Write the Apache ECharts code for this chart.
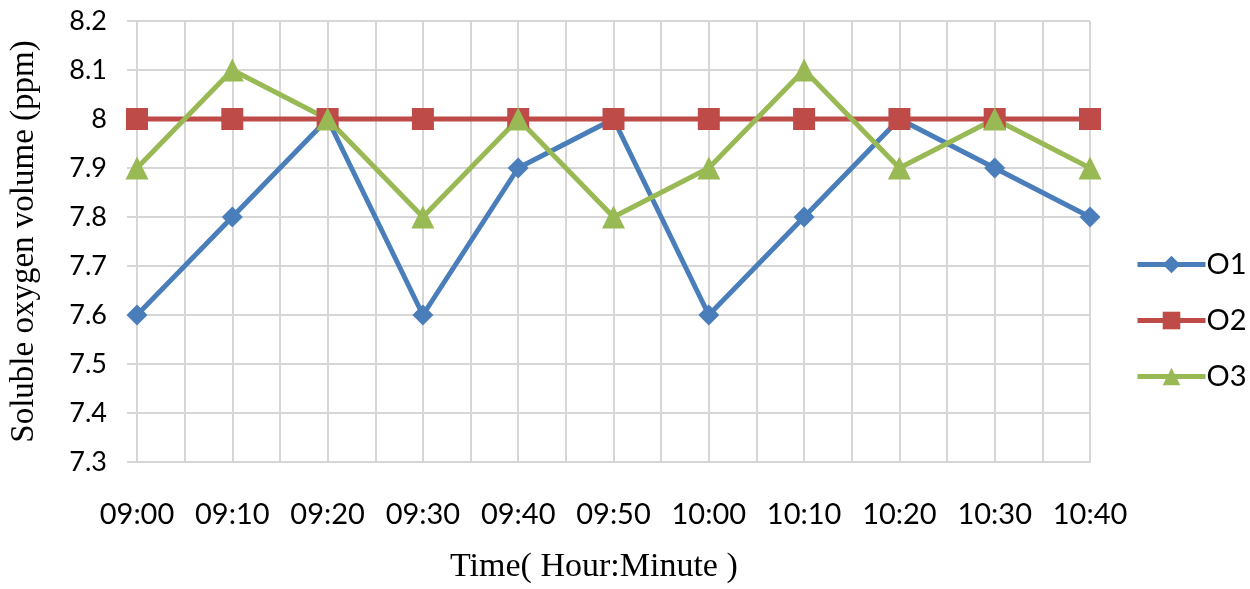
<!DOCTYPE html>
<html>
<head>
<meta charset="utf-8">
<script src="https://cdn.jsdelivr.net/npm/echarts@6/dist/echarts.min.js"></script>
<style>
  html, body { margin: 0; padding: 0; background: #fff; }
  #main { width: 1250px; height: 589px; }
</style>
</head>
<body>
<div id="main"></div>
<script>
// data
var times = ['09:00', '09:10', '09:20', '09:30', '09:40', '09:50', '10:00', '10:10', '10:20', '10:30', '10:40'];
var o1 = [7.6, 7.8, 8.0, 7.6, 7.9, 8.0, 7.6, 7.8, 8.0, 7.9, 7.8];
var o2 = [8.0, 8.0, 8.0, 8.0, 8.0, 8.0, 8.0, 8.0, 8.0, 8.0, 8.0];
var o3 = [7.9, 8.1, 8.0, 7.8, 8.0, 7.8, 7.9, 8.1, 7.9, 8.0, 7.9];
var yTicks = ['7.3', '7.4', '7.5', '7.6', '7.7', '7.8', '7.9', '8', '8.1', '8.2'];

var myChart = echarts.init(document.getElementById('main'));

var gridColor = '#d6d6d6';
var labelFont = 'Lato, "Open Sans", sans-serif';
var serifFont = '"Liberation Serif", "DejaVu Serif", serif';

var option = {
    animation: false,
    backgroundColor: '#fff',
    title: {
        text: 'Time( Hour:Minute )',
        left: 445,
        top: 545,
        textStyle: {
            fontFamily: serifFont,
            fontSize: 34,
            fontWeight: 'normal',
            color: '#000'
        }
    },
    legend: {
        orient: 'vertical',
        left: 1130,
        top: 245,
        itemWidth: 68,
        itemHeight: 22,
        itemGap: 27,
        lineStyle: { width: 5 },
        textStyle: { fontFamily: labelFont, fontSize: 29, color: '#000', padding: [0, 0, 0, -4] },
        data: ['O1', 'O2', 'O3']
    },
    grid: {
        left: 137,
        right: 160,
        top: 21,
        bottom: 127
    },
    xAxis: [
        {
            type: 'category',
            boundaryGap: false,
            data: times,
            axisLine: { lineStyle: { color: gridColor, width: 2 } },
            axisTick: { show: false },
            axisLabel: { interval: 0, margin: 38, fontFamily: labelFont, fontSize: 29, color: '#000' },
            splitLine: { show: false }
        },
        {
            // half-step vertical gridlines
            type: 'value',
            min: 0,
            max: times.length - 1,
            interval: 0.5,
            position: 'bottom',
            axisLine: { show: false },
            axisTick: { show: false },
            axisLabel: { show: false },
            splitLine: { show: true, lineStyle: { color: gridColor, width: 2 } }
        }
    ],
    yAxis: {
        type: 'value',
        min: 7.3,
        max: 8.2,
        interval: 0.1,
        name: 'Soluble oxygen volume (ppm)',
        nameLocation: 'middle',
        nameGap: 96,
        nameTextStyle: {
            fontFamily: serifFont,
            fontSize: 33,
            color: '#000'
        },
        axisLine: { show: true, lineStyle: { color: gridColor, width: 2 } },
        axisTick: { show: true, length: 10, lineStyle: { color: gridColor, width: 2 } },
        axisLabel: {
            margin: 30,
            fontFamily: labelFont,
            fontSize: 27,
            color: '#000',
            formatter: function (v) {
                return yTicks[Math.round((v - 7.3) * 10)];
            }
        },
        splitLine: { lineStyle: { color: gridColor, width: 2 } }
    },
    series: [
        {
            name: 'O1',
            type: 'line',
            data: o1,
            symbol: 'diamond',
            symbolSize: 21,
            color: '#4a7ebb',
            lineStyle: { width: 5 }
        },
        {
            name: 'O2',
            type: 'line',
            data: o2,
            symbol: 'rect',
            symbolSize: 22,
            color: '#be4b48',
            lineStyle: { width: 5 }
        },
        {
            name: 'O3',
            type: 'line',
            data: o3,
            symbol: 'triangle',
            symbolSize: 23,
            color: '#98b954',
            lineStyle: { width: 5 }
        }
    ]
};

myChart.setOption(option);
</script>
</body>
</html>
